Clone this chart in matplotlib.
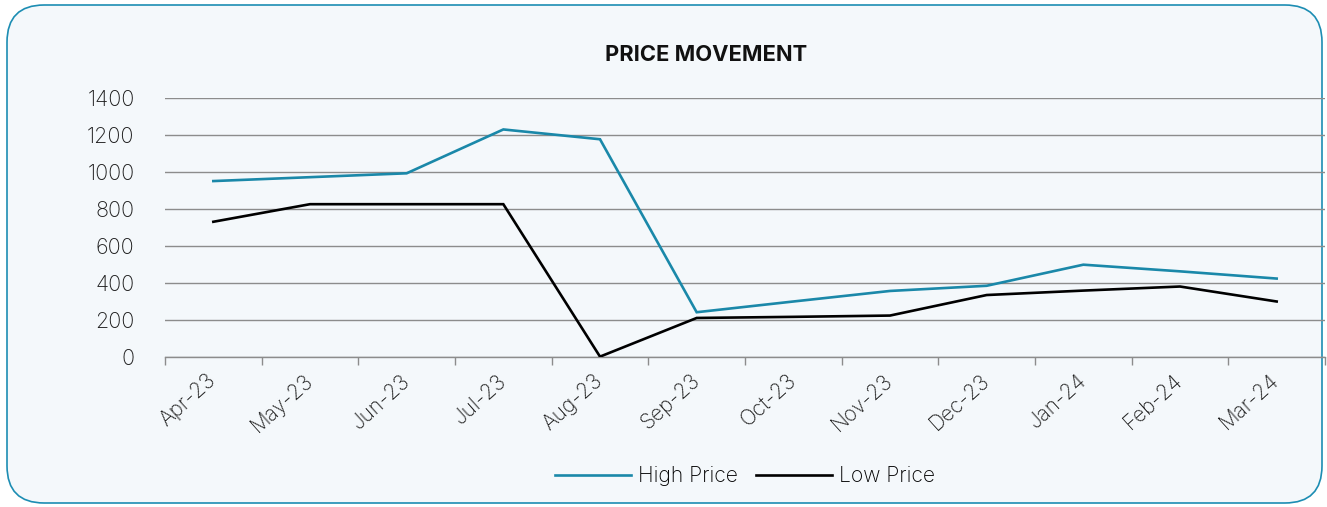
import matplotlib.pyplot as plt
from matplotlib.patches import FancyBboxPatch

# -------------------------------------------------------------------
# DATA
# -------------------------------------------------------------------
months = ["Apr-23", "May-23", "Jun-23", "Jul-23", "Aug-23", "Sep-23",
          "Oct-23", "Nov-23", "Dec-23", "Jan-24", "Feb-24", "Mar-24"]
high_price = [951, 972, 993, 1230, 1177, 242, 300, 357, 385, 499, 463, 424]
low_price = [731, 826, 826, 826, 2, 211, 217, 224, 335, 359, 381, 300]
y_ticks = [0, 200, 400, 600, 800, 1000, 1200, 1400]

# -------------------------------------------------------------------
# STYLE
# -------------------------------------------------------------------
BG = "#F4F8FB"
BORDER = "#1C8DB3"
HIGH_COLOR = "#1A88A9"
LOW_COLOR = "#000000"
GRID = "#8C8C8C"
TEXT = "#1E1E1E"

plt.rcParams["font.family"] = ["Inter", "DejaVu Sans"]

fig = plt.figure(figsize=(13.27, 5.07), dpi=100)
fig.patch.set_facecolor("white")

# rounded card behind everything
card = FancyBboxPatch(
    (7 / 1327, 4 / 507), 1315 / 1327, 498 / 507,
    boxstyle="round,pad=0,rounding_size=0.028",
    transform=fig.transFigure, facecolor=BG, edgecolor=BORDER,
    linewidth=1.2, mutation_aspect=1327 / 507, zorder=-10,
)
fig.patches.append(card)

ax = fig.add_axes([165 / 1327, 1 - 357 / 507, 1160 / 1327, 259 / 507])
ax.set_facecolor("none")

x = list(range(len(months)))
ax.plot(x, high_price, color=HIGH_COLOR, linewidth=1.9, label="High Price",
        solid_joinstyle="miter", zorder=3)
ax.plot(x, low_price, color=LOW_COLOR, linewidth=1.9, label="Low Price",
        solid_joinstyle="miter", zorder=3)

ax.set_xlim(-0.5, len(months) - 0.5)
ax.set_ylim(0, 1400)
ax.set_yticks(y_ticks)
ax.set_yticklabels([str(v) for v in y_ticks], fontsize=15.5, color=TEXT,
                   fontweight="light")
ax.tick_params(axis="y", length=0, pad=22)

# category ticks sit between months (Excel style)
ax.set_xticks([i - 0.5 for i in range(len(months) + 1)], minor=False)
ax.set_xticklabels([""] * (len(months) + 1))
ax.tick_params(axis="x", which="major", length=6, color=GRID, width=1)
ax.set_xticks(x, minor=True)
ax.set_xticklabels(months, minor=True, rotation=42, ha="right", va="center",
                   rotation_mode="anchor", fontsize=15, color=TEXT,
                   fontweight="light")
ax.tick_params(axis="x", which="minor", length=0, pad=15)

ax.grid(axis="y", color=GRID, linewidth=1.0)
ax.set_axisbelow(True)
for side in ["top", "right", "left"]:
    ax.spines[side].set_visible(False)
ax.spines["bottom"].set_color(GRID)
ax.spines["bottom"].set_linewidth(1.0)

fig.text(706 / 1327, 1 - 55 / 507, "PRICE MOVEMENT", ha="center", va="center",
         fontsize=15.8, fontweight="bold", color="#111111")

fig.legend(loc="center", bbox_to_anchor=(745 / 1327, 1 - 476 / 507),
           ncol=2, frameon=False, handlelength=3.6,
           handletextpad=0.3, columnspacing=0.9,
           prop={"weight": "light", "size": 15.2})

plt.savefig("out.png", dpi=100, facecolor=fig.get_facecolor())
